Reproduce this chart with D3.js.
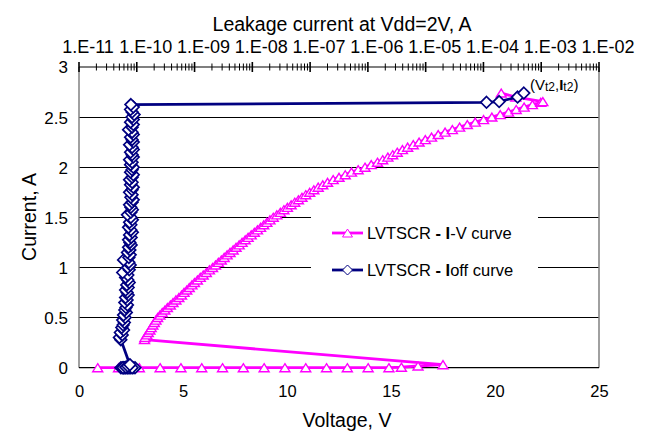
<!DOCTYPE html>
<html>
<head>
<meta charset="utf-8">
<script src="https://cdn.jsdelivr.net/npm/d3@7"></script>
<style>
  body { margin: 0; background: #fff; }
  svg { display: block; }
  text { font-family: "Liberation Sans", Arial, Helvetica, sans-serif; fill: #000; }
</style>
</head>
<body>
<svg id="chart" width="648" height="435"></svg>
<script>
// Axis tick values and labels
const voltageTicks = [0, 5, 10, 15, 20, 25];
const currentTicks = [0, 0.5, 1, 1.5, 2, 2.5, 3];
const leakageTicks = [1e-11, 1e-10, 1e-9, 1e-8, 1e-7, 1e-6, 1e-5, 1e-4, 1e-3, 1e-2];
const leakageTickLabels = ["1.E-11", "1.E-10", "1.E-09", "1.E-08", "1.E-07", "1.E-06", "1.E-05", "1.E-04", "1.E-03", "1.E-02"];

// TLP pulse current, A (shared by both curves)
const currents = [
  0, 0, 0, 0, 0, 0, 0, 0, 0, 0, 0, 0, 0, 0, 0, 0.005, 0.017, 0.03,
  0.280, 0.302, 0.327, 0.351, 0.376, 0.400, 0.426, 0.451, 0.475, 0.501,
  0.525, 0.551, 0.575, 0.600, 0.626, 0.650, 0.676, 0.700, 0.725, 0.751,
  0.775, 0.800, 0.826, 0.850, 0.875, 0.901, 0.925, 0.950, 0.976, 1.000,
  1.025, 1.051, 1.075, 1.100, 1.126, 1.150, 1.175, 1.201, 1.225, 1.250,
  1.276, 1.300, 1.325, 1.351, 1.375, 1.400, 1.426, 1.450, 1.475, 1.501,
  1.525, 1.550, 1.576, 1.600, 1.625, 1.651, 1.675, 1.700, 1.726, 1.750,
  1.775, 1.801, 1.825, 1.850, 1.876, 1.900, 1.925, 1.951, 1.975, 2.000,
  2.026, 2.050, 2.075, 2.101, 2.125, 2.150, 2.176, 2.200, 2.225, 2.251,
  2.275, 2.300, 2.326, 2.350, 2.375, 2.400, 2.426, 2.450, 2.475, 2.501,
  2.525, 2.550, 2.576, 2.600, 2.625,
  2.648, 2.655, 2.700, 2.740
];

// Pulse voltage, V (I-V curve)
const voltages = [
  0.9, 1.9, 2.9, 3.9, 4.9, 5.9, 6.9, 7.9, 8.9, 9.9, 10.9, 11.9, 12.9, 13.9, 14.9, 15.5, 16.3, 17.5,
  3.15, 3.17, 3.26, 3.33, 3.41, 3.47, 3.55, 3.62, 3.70, 3.78,
  3.89, 4.00, 4.13, 4.25, 4.39, 4.52, 4.66, 4.80, 4.93, 5.05,
  5.18, 5.30, 5.43, 5.55, 5.69, 5.83, 5.97, 6.12, 6.27, 6.42,
  6.56, 6.70, 6.84, 6.98, 7.12, 7.26, 7.41, 7.55, 7.70, 7.84,
  7.99, 8.13, 8.28, 8.43, 8.58, 8.73, 8.88, 9.03, 9.18, 9.34,
  9.51, 9.68, 9.85, 10.02, 10.20, 10.37, 10.55, 10.72, 10.90, 11.09,
  11.29, 11.50, 11.72, 11.95, 12.22, 12.50, 12.80, 13.10, 13.42, 13.75,
  14.05, 14.35, 14.60, 14.85, 15.08, 15.30, 15.55, 15.80, 16.07, 16.35,
  16.65, 16.95, 17.27, 17.60, 17.95, 18.30, 18.67, 19.05, 19.45, 19.85,
  20.25, 20.65, 21.02, 21.40, 21.80,
  22.20, 22.30, 21.00, 20.30
];

// Leakage current at Vdd = 2 V after each pulse, A (Ioff curve)
const leakages = [
  6.0e-11, 7.0e-11, 5.3e-11, 8.6e-11, 6.5e-11, 7.6e-11, 5.6e-11, 9.3e-11, 6.8e-11,
  6.0e-11, 7.9e-11, 6.3e-11, 7.3e-11, 5.8e-11, 8.3e-11, 6.5e-11, 7.0e-11, 7.6e-11,
  5.3e-11, 5.0e-11, 5.6e-11, 5.2e-11, 5.9e-11, 5.5e-11, 5.8e-11, 6.1e-11, 5.7e-11, 6.3e-11,
  5.9e-11, 6.6e-11, 6.2e-11, 6.5e-11, 6.9e-11, 6.2e-11, 6.8e-11, 6.4e-11, 7.1e-11, 6.8e-11,
  6.4e-11, 7.1e-11, 6.7e-11, 7.4e-11, 7.0e-11, 6.4e-11, 7.0e-11, 5.7e-11, 7.4e-11, 7.0e-11,
  7.7e-11, 7.3e-11, 5.9e-11, 7.3e-11, 7.7e-11, 6.9e-11, 7.6e-11, 7.2e-11, 8.0e-11, 7.6e-11,
  7.2e-11, 8.0e-11, 7.5e-11, 8.4e-11, 7.9e-11, 7.2e-11, 7.9e-11, 7.5e-11, 8.4e-11, 7.9e-11,
  6.9e-11, 7.9e-11, 8.4e-11, 7.9e-11, 7.5e-11, 8.3e-11, 8.7e-11, 7.9e-11, 8.3e-11, 7.5e-11,
  8.3e-11, 8.7e-11, 7.8e-11, 8.3e-11, 7.5e-11, 8.3e-11, 8.7e-11, 7.8e-11, 8.3e-11, 8.7e-11,
  7.8e-11, 8.3e-11, 7.5e-11, 8.7e-11, 8.3e-11, 7.8e-11, 8.7e-11, 8.3e-11, 7.5e-11, 8.7e-11,
  8.3e-11, 7.8e-11, 8.7e-11, 8.3e-11, 7.2e-11, 8.3e-11, 8.7e-11, 7.8e-11, 8.7e-11, 8.3e-11,
  9.0e-11, 8.3e-11, 7.8e-11, 8.7e-11, 7.9e-11,
  1.13e-4, 1.87e-4, 3.9e-4, 5.0e-4
];

const seriesNames = ["LVTSCR - I-V curve", "LVTSCR - Ioff curve"];

const ivColor = "#ff00ff";
const offColor = "#000080";
const fontStack = "'Liberation Sans', Arial, sans-serif";

const svg = d3.select("#chart");
const plot = { left: 79, right: 599, top: 67, bottom: 367.7 };

const x = d3.scaleLinear().domain([0, 25]).range([plot.left, plot.right]);
const xTop = d3.scaleLog().domain([1e-11, 1e-2]).range([plot.left, plot.right]);
const y = d3.scaleLinear().domain([0, 3]).range([plot.bottom, plot.top]);

// Horizontal gridlines
svg.append("g")
  .selectAll("line")
  .data(currentTicks.filter(d => d > 0 && d < 3))
  .join("line")
  .attr("x1", plot.left).attr("x2", plot.right)
  .attr("y1", d => y(d)).attr("y2", d => y(d))
  .attr("stroke", "#000").attr("stroke-width", 1)
  .attr("shape-rendering", "crispEdges");

// Plot frame: left and right in grey, bottom in black
svg.append("line")
  .attr("x1", plot.left).attr("x2", plot.left)
  .attr("y1", plot.top).attr("y2", plot.bottom)
  .attr("stroke", "#808080").attr("stroke-width", 1.5);
svg.append("line")
  .attr("x1", plot.right).attr("x2", plot.right)
  .attr("y1", plot.top).attr("y2", plot.bottom)
  .attr("stroke", "#808080").attr("stroke-width", 1.5);
svg.append("line")
  .attr("x1", plot.left).attr("x2", plot.right)
  .attr("y1", y(0)).attr("y2", y(0))
  .attr("stroke", "#000").attr("stroke-width", 1.2);

// Bottom voltage axis (labels only)
const bottomAxis = svg.append("g")
  .attr("transform", `translate(0,${y(0)})`)
  .call(d3.axisBottom(x).tickValues(voltageTicks).tickSize(0).tickPadding(18).tickFormat(d3.format("d")));
bottomAxis.select(".domain").remove();
bottomAxis.selectAll("text")
  .style("font-size", "16.5px")
  .style("font-family", fontStack);

// Left current axis (labels only)
const leftAxis = svg.append("g")
  .attr("transform", `translate(${plot.left},0)`)
  .call(d3.axisLeft(y).tickValues(currentTicks).tickSize(0).tickPadding(11).tickFormat(d => String(d)));
leftAxis.select(".domain").remove();
leftAxis.selectAll("text")
  .style("font-size", "17px")
  .style("font-family", fontStack)
  .attr("dy", "0.35em");

// Top leakage axis: line, cross ticks (major and minor), labels
const topG = svg.append("g");
topG.append("line")
  .attr("x1", plot.left).attr("x2", plot.right)
  .attr("y1", plot.top).attr("y2", plot.top)
  .attr("stroke", "#000").attr("stroke-width", 1.2);
const minorTicks = [];
leakageTicks.slice(0, -1).forEach(dec => {
  for (let m = 2; m <= 9; m++) minorTicks.push(dec * m);
});
topG.selectAll("line.minor")
  .data(minorTicks)
  .join("line")
  .attr("class", "minor")
  .attr("x1", d => xTop(d)).attr("x2", d => xTop(d))
  .attr("y1", plot.top - 3.5).attr("y2", plot.top + 3.5)
  .attr("stroke", "#000").attr("stroke-width", 1);
topG.selectAll("line.major")
  .data(leakageTicks)
  .join("line")
  .attr("class", "major")
  .attr("x1", d => xTop(d)).attr("x2", d => xTop(d))
  .attr("y1", plot.top - 5).attr("y2", plot.top + 5)
  .attr("stroke", "#000").attr("stroke-width", 1.6);
topG.selectAll("text")
  .data(leakageTicks)
  .join("text")
  .attr("x", d => xTop(d) + 9)
  .attr("y", 53)
  .attr("text-anchor", "middle")
  .style("font-size", "18px")
  .text((d, i) => leakageTickLabels[i]);

// Axis titles
svg.append("text")
  .attr("x", 342).attr("y", 31)
  .attr("text-anchor", "middle")
  .style("font-size", "19.5px")
  .text("Leakage current at Vdd=2V, A");
svg.append("text")
  .attr("x", 347).attr("y", 427)
  .attr("text-anchor", "middle")
  .style("font-size", "19.5px")
  .text("Voltage, V");
svg.append("text")
  .attr("transform", "translate(36,217) rotate(-90)")
  .attr("text-anchor", "middle")
  .style("font-size", "19.5px")
  .text("Current, A");

// Marker shapes
const triPath = "M0,-4L5,4L-5,4Z";
const diaPath = "M0,-5.8L5.8,0L0,5.8L-5.8,0Z";

const points = currents.map((c, i) => ({ i: c, v: voltages[i], off: leakages[i] }));

// I-V curve
svg.append("path")
  .datum(points)
  .attr("fill", "none")
  .attr("stroke", ivColor)
  .attr("stroke-width", 2.8)
  .attr("stroke-linejoin", "round")
  .attr("d", d3.line().x(d => x(d.v)).y(d => y(d.i)));
svg.append("g")
  .selectAll("path")
  .data(points)
  .join("path")
  .attr("transform", d => `translate(${x(d.v)},${y(d.i)})`)
  .attr("d", triPath)
  .attr("fill", "#fff")
  .attr("stroke", ivColor)
  .attr("stroke-width", 1.4);

// Ioff curve
svg.append("path")
  .datum(points)
  .attr("fill", "none")
  .attr("stroke", offColor)
  .attr("stroke-width", 2.8)
  .attr("stroke-linejoin", "round")
  .attr("d", d3.line().x(d => xTop(d.off)).y(d => y(d.i)));
svg.append("g")
  .selectAll("path")
  .data(points)
  .join("path")
  .attr("transform", d => `translate(${xTop(d.off)},${y(d.i)})`)
  .attr("d", diaPath)
  .attr("fill", "#fff")
  .attr("stroke", offColor)
  .attr("stroke-width", 1.7);

// Failure point annotation
const ann = svg.append("text")
  .attr("x", 530).attr("y", 90)
  .style("font-size", "15px");
ann.append("tspan").text("(V");
ann.append("tspan").style("font-size", "12px").attr("dy", 1).text("t2");
ann.append("tspan").attr("dy", -1).text(",");
ann.append("tspan").style("font-weight", "bold").text("I");
ann.append("tspan").style("font-size", "12px").attr("dy", 1).text("t2");
ann.append("tspan").attr("dy", -1).text(")");

// Legend
const legend = svg.append("g");
legend.append("rect")
  .attr("x", 311).attr("y", 213).attr("width", 227).attr("height", 78)
  .attr("fill", "#fff");
const legendRows = [
  { name: seriesNames[0], color: ivColor, shape: triPath, y: 233 },
  { name: seriesNames[1], color: offColor, shape: "M0,-5L5,0L0,5L-5,0Z", y: 270 }
];
legendRows.forEach(r => {
  legend.append("line")
    .attr("x1", 332).attr("x2", 363)
    .attr("y1", r.y).attr("y2", r.y)
    .attr("stroke", r.color).attr("stroke-width", 2.8);
  legend.append("path")
    .attr("transform", `translate(347.5,${r.y})`)
    .attr("d", r.shape)
    .attr("fill", "#fff").attr("stroke", r.color).attr("stroke-width", 1);
  const parts = r.name.split(" - ");
  const t = legend.append("text")
    .attr("x", 367).attr("y", r.y + 6)
    .style("font-size", "16.5px");
  t.append("tspan").text(parts[0] + " ");
  t.append("tspan").style("font-weight", "bold").text("-");
  t.append("tspan").text(" ");
  t.append("tspan").style("font-weight", "bold").text(parts[1].charAt(0));
  t.append("tspan").text(parts[1].slice(1));
});
</script>
</body>
</html>
